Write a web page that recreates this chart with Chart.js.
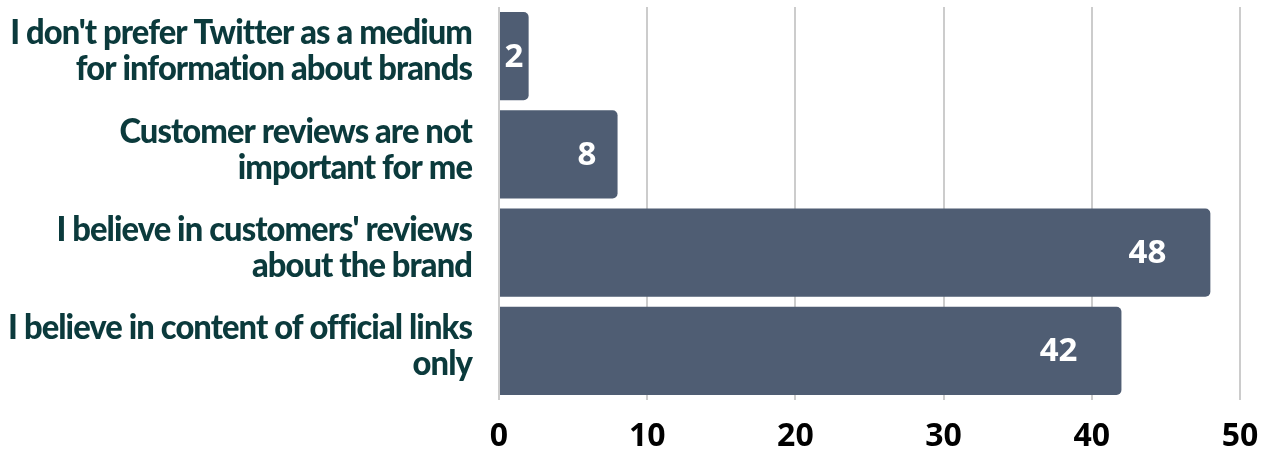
<!DOCTYPE html>
<html><head><meta charset="utf-8">
<script src="https://cdn.jsdelivr.net/npm/chart.js@4"></script>
<style>html,body{margin:0;padding:0;background:#fff}#wrap{width:1261px;height:450px}</style>
</head><body><div id="wrap"><canvas id="c" width="1261" height="450"></canvas></div>
<script>
const categories = [
  ["I don't prefer Twitter as a medium", "for information about brands"],
  ["Customer reviews are not", "important for me"],
  ["I believe in customers' reviews", "about the brand"],
  ["I believe in content of official links", "only"]
];
const values = [2, 8, 48, 42];
const xTicks = [0, 10, 20, 30, 40, 50];

const LABEL_RIGHT = 472;   // right edge of category labels
const SQUEEZE = 0.935;     // horizontal condensing of category labels

const barLabels = {
  id: 'barLabels',
  beforeDraw(chart) {
    chart.ctx.letterSpacing = '0px';
    chart.scales.y._computeLabelArea = () => undefined;
  },
  afterDatasetsDraw(chart) {
    const ctx = chart.ctx;
    const meta = chart.getDatasetMeta(0);
    ctx.save();
    ctx.font = "bold 33px 'Open Sans', sans-serif";
    ctx.fillStyle = '#ffffff';
    ctx.textBaseline = 'middle';
    ctx.textAlign = 'center';
    meta.data.forEach((bar, i) => {
      const txt = String(values[i]);
      const w = ctx.measureText(txt).width;
      const width = bar.x - bar.base;
      const pad = Math.min(44, width * 0.18);
      const cx = bar.x - pad - w / 2;
      ctx.fillText(txt, cx, bar.y + 1);
    });
    ctx.restore();
    // condensed look for the category labels drawn next (y ticks layer, z=1)
    ctx.letterSpacing = '-1px';
    ctx.setTransform(SQUEEZE, 0, 0, 1, (1 - SQUEEZE) * LABEL_RIGHT, 0);
  },
  afterDraw(chart) {
    chart.ctx.setTransform(1, 0, 0, 1, 0, 0);
    chart.ctx.letterSpacing = '0px';
  }
};

new Chart(document.getElementById('c'), {
  type: 'bar',
  data: {
    labels: categories,
    datasets: [{
      data: values,
      backgroundColor: '#4f5d73',
      borderRadius: 5,
      borderSkipped: 'start',
      categoryPercentage: 0.9,
      barPercentage: 1.0
    }]
  },
  options: {
    indexAxis: 'y',
    responsive: false,
    animation: false,
    devicePixelRatio: 1,
    layout: { padding: { top: 7, right: 21, left: 0, bottom: 0 } },
    plugins: { legend: { display: false }, tooltip: { enabled: false } },
    scales: {
      x: {
        min: 0, max: 50,
        afterBuildTicks: (s) => { s.ticks = xTicks.map(v => ({ value: v })); },
        grid: { color: '#cccccc', lineWidth: 2, drawTicks: false },
        border: { display: false },
        ticks: {
          color: '#000000', padding: 18,
          font: { family: "'Open Sans', sans-serif", weight: 'bold', size: 32 }
        },
        afterFit: (s) => { s.height = 50; s.paddingLeft = 0; s.paddingRight = 0; }
      },
      y: {
        grid: { display: false, drawTicks: false },
        border: { display: false },
        ticks: {
          z: 1,
          color: '#0b3a3c', padding: 27, labelOffset: -5,
          font: { family: "Lato, sans-serif", weight: '900', size: 35, lineHeight: 1.03 }
        },
        afterFit: (s) => { s.width = 499; s.paddingTop = 0; s.paddingBottom = 0; }
      }
    }
  },
  plugins: [barLabels]
});
</script>
</body></html>
